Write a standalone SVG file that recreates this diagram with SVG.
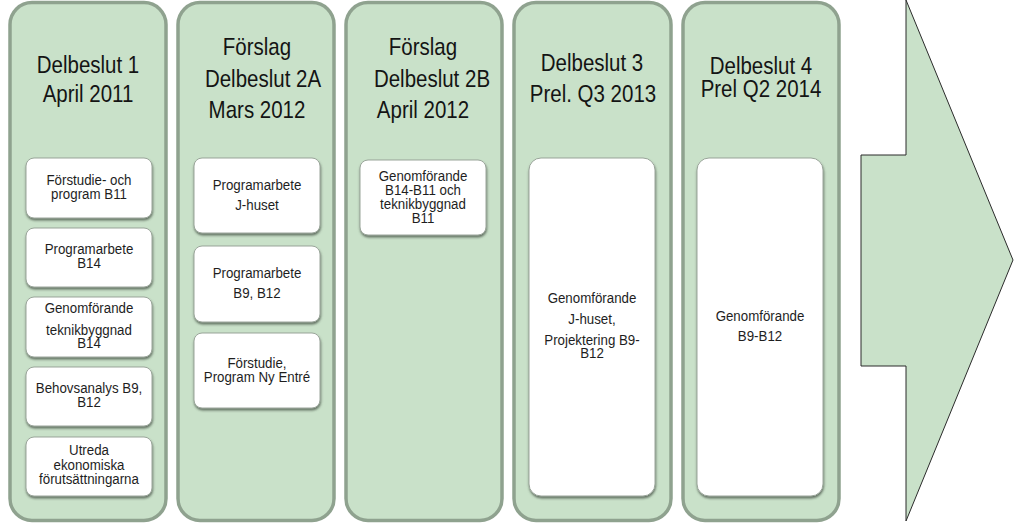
<svg xmlns="http://www.w3.org/2000/svg" width="1024" height="524" viewBox="0 0 1024 524">
<defs>
<style>
.col{fill:#c9e1c9;stroke:#8fa28f;stroke-width:3.5}
.box{fill:#ffffff;stroke:#9aa59a;stroke-width:1;filter:url(#sh)}
.t{font-family:"Liberation Sans",Arial,sans-serif;font-size:20.5px;fill:#141414;text-anchor:middle}
.b{font-family:"Liberation Sans",Arial,sans-serif;font-size:13.3px;fill:#1e1e1e;text-anchor:middle}
.arrow{fill:#c9e1c9;stroke:#2b2b2b;stroke-width:1}
</style>
<filter id="sh" x="-10%" y="-10%" width="130%" height="130%">
<feDropShadow dx="0.5" dy="2" stdDeviation="1" flood-color="#3c463c" flood-opacity="0.7"/>
</filter>
</defs>
<rect width="1024" height="524" fill="#ffffff"/>

<g id="col1">
<rect class="col" x="10" y="2.5" width="156" height="518" rx="22"/>
<text class="t" x="88" y="73" transform="matrix(1 0 0 1.2 0 -14.6)">Delbeslut 1</text>
<text class="t" x="88" y="102" transform="matrix(1 0 0 1.2 0 -20.4)">April 2011</text>
<g id="c1b1"><rect class="box" x="26" y="158" width="126" height="60" rx="8"/>
<text class="b" x="89" y="185" transform="matrix(1 0 0 1.13 0 -24.05)">Förstudie- och</text>
<text class="b" x="89" y="199" transform="matrix(1 0 0 1.13 0 -25.87)">program B11</text></g>
<g id="c1b2"><rect class="box" x="26" y="228" width="126" height="59" rx="8"/>
<text class="b" x="89" y="254" transform="matrix(1 0 0 1.13 0 -33.02)">Programarbete</text>
<text class="b" x="89" y="268" transform="matrix(1 0 0 1.13 0 -34.84)">B14</text></g>
<g id="c1b3"><rect class="box" x="26" y="297" width="126" height="60" rx="8"/>
<text class="b" x="89" y="313" transform="matrix(1 0 0 1.13 0 -40.69)">Genomförande</text>
<text class="b" x="89" y="335" transform="matrix(1 0 0 1.13 0 -43.55)">teknikbyggnad</text>
<text class="b" x="89" y="348" transform="matrix(1 0 0 1.13 0 -45.24)">B14</text></g>
<g id="c1b4"><rect class="box" x="26" y="367" width="126" height="59" rx="8"/>
<text class="b" x="89" y="393" transform="matrix(1 0 0 1.13 0 -51.09)">Behovsanalys B9,</text>
<text class="b" x="89" y="407" transform="matrix(1 0 0 1.13 0 -52.91)">B12</text></g>
<g id="c1b5"><rect class="box" x="26" y="437" width="126" height="59" rx="8"/>
<text class="b" x="89" y="455" transform="matrix(1 0 0 1.13 0 -59.15)">Utreda</text>
<text class="b" x="89" y="470" transform="matrix(1 0 0 1.13 0 -61.1)">ekonomiska</text>
<text class="b" x="89" y="484" transform="matrix(1 0 0 1.13 0 -62.92)">förutsättningarna</text></g>
</g>

<g id="col2">
<rect class="col" x="178" y="2.5" width="156" height="518" rx="22"/>
<text class="t" x="257" y="55" transform="matrix(1 0 0 1.2 0 -11)">Förslag</text>
<text class="t" x="263" y="87" transform="matrix(1 0 0 1.2 0 -17.4)">Delbeslut 2A</text>
<text class="t" x="257" y="118" transform="matrix(1 0 0 1.2 0 -23.6)">Mars 2012</text>
<g id="c2b1"><rect class="box" x="194" y="158" width="126" height="75" rx="8"/>
<text class="b" x="257" y="190" transform="matrix(1 0 0 1.13 0 -24.7)">Programarbete</text>
<text class="b" x="257" y="210" transform="matrix(1 0 0 1.13 0 -27.3)">J-huset</text></g>
<g id="c2b2"><rect class="box" x="194" y="246" width="126" height="76" rx="8"/>
<text class="b" x="257" y="278" transform="matrix(1 0 0 1.13 0 -36.14)">Programarbete</text>
<text class="b" x="257" y="298" transform="matrix(1 0 0 1.13 0 -38.74)">B9, B12</text></g>
<g id="c2b3"><rect class="box" x="194" y="333" width="126" height="75" rx="8"/>
<text class="b" x="257" y="368" transform="matrix(1 0 0 1.13 0 -47.84)">Förstudie,</text>
<text class="b" x="257" y="382" transform="matrix(1 0 0 1.13 0 -49.66)">Program Ny Entré</text></g>
</g>

<g id="col3">
<rect class="col" x="346" y="2.5" width="156" height="518" rx="22"/>
<text class="t" x="423" y="55" transform="matrix(1 0 0 1.2 0 -11)">Förslag</text>
<text class="t" x="432" y="87" transform="matrix(1 0 0 1.2 0 -17.4)">Delbeslut 2B</text>
<text class="t" x="423" y="118" transform="matrix(1 0 0 1.2 0 -23.6)">April 2012</text>
<g id="c3b1"><rect class="box" x="360" y="160" width="126" height="75" rx="8"/>
<text class="b" x="423" y="181" transform="matrix(1 0 0 1.13 0 -23.53)">Genomförande</text>
<text class="b" x="423" y="195" transform="matrix(1 0 0 1.13 0 -25.35)">B14-B11 och</text>
<text class="b" x="423" y="209" transform="matrix(1 0 0 1.13 0 -27.17)">teknikbyggnad</text>
<text class="b" x="423" y="223" transform="matrix(1 0 0 1.13 0 -28.99)">B11</text></g>
</g>

<g id="col4">
<rect class="col" x="514" y="2.5" width="157" height="518" rx="22"/>
<text class="t" x="592" y="71" transform="matrix(1 0 0 1.2 0 -14.2)">Delbeslut 3</text>
<text class="t" x="593" y="102" transform="matrix(1 0 0 1.2 0 -20.4)">Prel. Q3 2013</text>
<g id="c4b1"><rect class="box" x="529" y="158" width="126" height="338" rx="12"/>
<text class="b" x="592" y="303" transform="matrix(1 0 0 1.13 0 -39.39)">Genomförande</text>
<text class="b" x="592" y="324" transform="matrix(1 0 0 1.13 0 -42.12)">J-huset,</text>
<text class="b" x="592" y="345" transform="matrix(1 0 0 1.13 0 -44.85)">Projektering B9-</text>
<text class="b" x="592" y="358" transform="matrix(1 0 0 1.13 0 -46.54)">B12</text></g>
</g>

<g id="col5">
<rect class="col" x="683" y="2.5" width="156" height="518" rx="22"/>
<text class="t" x="761" y="74" transform="matrix(1 0 0 1.2 0 -14.8)">Delbeslut 4</text>
<text class="t" x="761" y="97" transform="matrix(1 0 0 1.2 0 -19.4)">Prel Q2 2014</text>
<g id="c5b1"><rect class="box" x="697" y="158" width="126" height="338" rx="12"/>
<text class="b" x="760" y="321" transform="matrix(1 0 0 1.13 0 -41.73)">Genomförande</text>
<text class="b" x="760" y="341" transform="matrix(1 0 0 1.13 0 -44.33)">B9-B12</text></g>
</g>

<g id="arrow">
<polygon class="arrow" points="906,0 1013,260 906,521 906,366 861,366 861,155 906,155"/>
</g>

<g id="connectors"></g>
</svg>
